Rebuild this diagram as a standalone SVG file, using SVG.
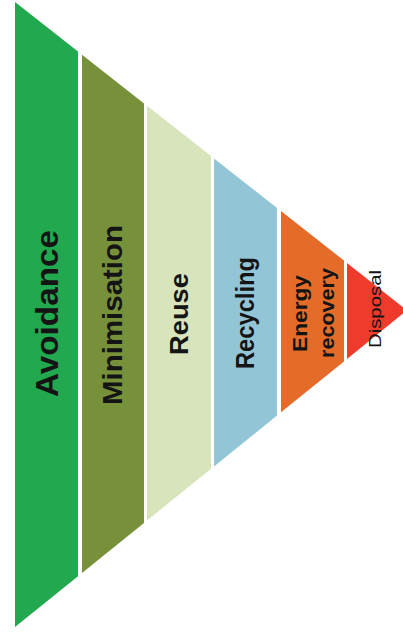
<svg xmlns="http://www.w3.org/2000/svg" width="403" height="642" viewBox="0 0 403 642">
<style>
.lbl{font-family:"Liberation Sans",Arial,sans-serif;font-weight:bold;fill:#141414;text-anchor:middle}
.reg{font-family:"Liberation Sans",Arial,sans-serif;font-weight:normal;fill:#141414;text-anchor:middle}
</style>
<rect width="403" height="642" fill="#ffffff"/>
<g id="avoidance">
<polygon points="15,2 78,51.5 78,576.2 15,627" fill="#22a84e"/>
<text class="lbl" transform="translate(58,313.5) rotate(-90)" font-size="32" textLength="167" lengthAdjust="spacingAndGlyphs">Avoidance</text>
</g>
<g id="minimisation">
<polygon points="82,54.7 144,103.4 144,522.9 82,572.9" fill="#77913a"/>
<text class="lbl" transform="translate(122,315) rotate(-90)" font-size="27" textLength="180" lengthAdjust="spacingAndGlyphs">Minimisation</text>
</g>
<g id="reuse">
<polygon points="147,105.8 211,156.1 211,468.8 147,520.5" fill="#d8e4bc"/>
<text class="lbl" transform="translate(188,314) rotate(-90)" font-size="25" textLength="82" lengthAdjust="spacingAndGlyphs">Reuse</text>
</g>
<g id="recycling">
<polygon points="214,158.4 277,207.9 277,415.6 214,466.4" fill="#92c5d6"/>
<text class="lbl" transform="translate(254,313) rotate(-90)" font-size="25" textLength="112" lengthAdjust="spacingAndGlyphs">Recycling</text>
</g>
<g id="energy-recovery">
<polygon points="281,211.1 344,260.6 344,361.5 281,412.3" fill="#e46c28"/>
<text class="lbl" transform="translate(307,313.5) rotate(-90)" font-size="21" textLength="77" lengthAdjust="spacingAndGlyphs">Energy</text>
<text class="lbl" transform="translate(334,313) rotate(-90)" font-size="21" textLength="90" lengthAdjust="spacingAndGlyphs">recovery</text>
</g>
<g id="disposal">
<polygon points="347,263 407,310.3 347,359.1" fill="#ee3b2c"/>
<text class="reg" transform="translate(381,309) rotate(-90)" font-size="17" textLength="78" lengthAdjust="spacingAndGlyphs">Disposal</text>
</g>
<g id="connectors"/>
</svg>
